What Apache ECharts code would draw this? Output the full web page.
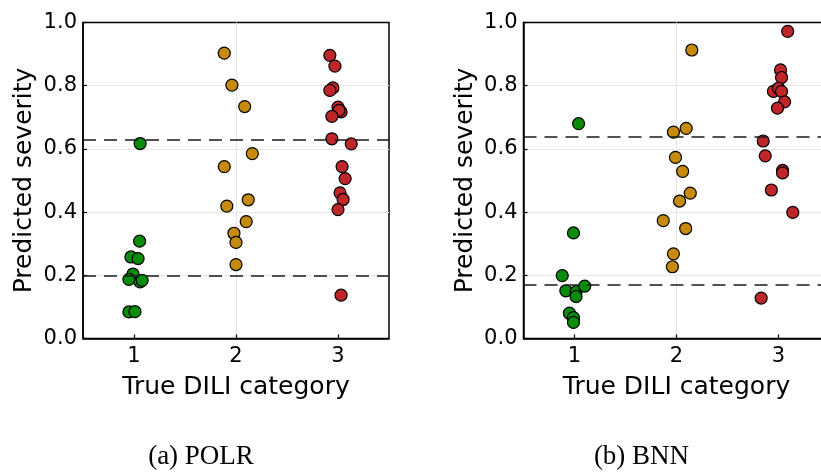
<!DOCTYPE html>
<html>
<head>
<meta charset="utf-8">
<script src="https://cdn.jsdelivr.net/npm/echarts@6/dist/echarts.min.js"></script>
<style>
  html, body { margin: 0; padding: 0; background: #fff; }
  #chart { width: 821px; height: 472px; }
</style>
</head>
<body>
<div id="chart"></div>
<script>
// True DILI categories on the x axis
const categories = [1, 2, 3];
const yTicks = [0.0, 0.2, 0.4, 0.6, 0.8, 1.0];

// POLR: predicted severity per compound, with horizontal jitter around its category
const polrCat1Y = [0.617, 0.308, 0.258, 0.253, 0.204, 0.187, 0.179, 0.184, 0.084, 0.085];
const polrCat1Jitter = [0.06, 0.055, -0.03, 0.04, -0.01, -0.05, 0.06, 0.08, -0.05, 0.01];
const polrCat2Y = [0.903, 0.802, 0.734, 0.585, 0.544, 0.419, 0.439, 0.370, 0.333, 0.304, 0.234];
const polrCat2Jitter = [-0.115, -0.04, 0.085, 0.16, -0.115, -0.09, 0.12, 0.10, -0.02, 0.0, 0.0];
const polrCat3Y = [0.896, 0.862, 0.793, 0.785, 0.732, 0.717, 0.722, 0.703, 0.632, 0.616, 0.544, 0.506, 0.461, 0.440, 0.408, 0.137];
const polrCat3Jitter = [-0.08, -0.03, -0.05, -0.08, 0.0, 0.03, 0.01, -0.06, -0.06, 0.13, 0.04, 0.07, 0.02, 0.05, 0.0, 0.03];
const polrThresholds = [0.200, 0.628];

// BNN: predicted severity per compound, with horizontal jitter around its category
const bnnCat1Y = [0.680, 0.334, 0.199, 0.151, 0.148, 0.166, 0.133, 0.080, 0.066, 0.051];
const bnnCat1Jitter = [0.04, -0.01, -0.12, -0.085, 0.015, 0.10, 0.015, -0.05, -0.01, -0.01];
const bnnCat2Y = [0.913, 0.665, 0.653, 0.573, 0.529, 0.460, 0.435, 0.373, 0.348, 0.268, 0.227];
const bnnCat2Jitter = [0.15, 0.095, -0.03, -0.01, 0.06, 0.135, 0.03, -0.13, 0.09, -0.03, -0.04];
const bnnCat3Y = [0.972, 0.850, 0.826, 0.782, 0.792, 0.782, 0.749, 0.729, 0.625, 0.578, 0.532, 0.524, 0.470, 0.399, 0.128];
const bnnCat3Jitter = [0.09, 0.02, 0.03, -0.05, 0.0, 0.03, 0.06, -0.01, -0.15, -0.13, 0.04, 0.04, -0.07, 0.14, -0.17];
const bnnThresholds = [0.167, 0.639];

const panelTitles = ['(a) POLR', '(b) BNN'];
const xName = 'True DILI category';
const yName = 'Predicted severity';

const catColors = ['#0a8c0a', '#c68b0d', '#bf2629'];
const sansFont = 'DejaVu Sans';

function points(cat, ys, jitter) {
  return ys.map((v, i) => [cat + jitter[i], v]);
}

const panels = [
  { left: 83, groups: [[polrCat1Y, polrCat1Jitter], [polrCat2Y, polrCat2Jitter], [polrCat3Y, polrCat3Jitter]], thresholds: polrThresholds },
  { left: 523.5, groups: [[bnnCat1Y, bnnCat1Jitter], [bnnCat2Y, bnnCat2Jitter], [bnnCat3Y, bnnCat3Jitter]], thresholds: bnnThresholds }
];

const grids = [], xAxes = [], yAxes = [], series = [], graphics = [];

panels.forEach((p, k) => {
  grids.push({
    left: p.left, top: 22.5, width: 306, height: 316,
    outerBoundsMode: 'none', containLabel: false,
    show: true, borderColor: '#000', borderWidth: 1.5, backgroundColor: 'transparent'
  });
  xAxes.push({
    gridIndex: k, type: 'value', min: 0.5, max: 3.5,
    name: xName, nameLocation: 'middle', nameGap: 36,
    nameTextStyle: { fontFamily: sansFont, fontSize: 25, color: '#000' },
    axisLine: { show: true, onZero: false, lineStyle: { color: '#000', width: 1.5 } },
    axisTick: { show: true, inside: true, length: 4, customValues: categories, lineStyle: { color: '#000', width: 1.2 } },
    axisLabel: { customValues: categories, margin: 8, fontFamily: sansFont, fontSize: 21, color: '#000' },
    splitLine: { show: true, showMinLine: false, showMaxLine: false, lineStyle: { color: '#e6e6e6', width: 1 } }
  });
  yAxes.push({
    gridIndex: k, type: 'value', min: 0, max: 1, interval: 0.2,
    name: yName, nameLocation: 'middle', nameRotate: 90, nameGap: 46,
    nameTextStyle: { fontFamily: sansFont, fontSize: 25, color: '#000' },
    axisLine: { show: true, onZero: false, lineStyle: { color: '#000', width: 1.5 } },
    axisTick: { show: true, inside: true, length: 4, lineStyle: { color: '#000', width: 1.2 } },
    axisLabel: { margin: 6, fontFamily: sansFont, fontSize: 21, color: '#000', formatter: v => v.toFixed(1) },
    splitLine: { show: true, showMinLine: false, showMaxLine: false, lineStyle: { color: '#e6e6e6', width: 1 } }
  });
  // dashed lines marking the fitted category cut-points
  series.push({
    type: 'scatter', xAxisIndex: k, yAxisIndex: k, data: [], silent: true,
    markLine: {
      silent: true, symbol: 'none', label: { show: false },
      lineStyle: { color: '#1a1a1a', width: 1.6, type: [13, 8] },
      data: p.thresholds.map(t => ({ yAxis: t }))
    },
    z: 1
  });
  p.groups.forEach(([ys, jit], c) => {
    series.push({
      type: 'scatter', xAxisIndex: k, yAxisIndex: k,
      data: points(categories[c], ys, jit),
      symbol: 'circle', symbolSize: 12,
      itemStyle: { color: catColors[c], borderColor: '#000', borderWidth: 1.2, opacity: 1 },
      z: 3
    });
  });
  graphics.push({
    type: 'text', x: p.left + 118, y: 457,
    style: { text: panelTitles[k], font: '27px "Liberation Serif"', fill: '#000', textAlign: 'center', textVerticalAlign: 'middle' }
  });
});

const chart = echarts.init(document.getElementById('chart'), null, { renderer: 'canvas' });
chart.setOption({
  animation: false,
  backgroundColor: '#fff',
  grid: grids,
  xAxis: xAxes,
  yAxis: yAxes,
  series: series,
  graphic: graphics
});
</script>
</body>
</html>
